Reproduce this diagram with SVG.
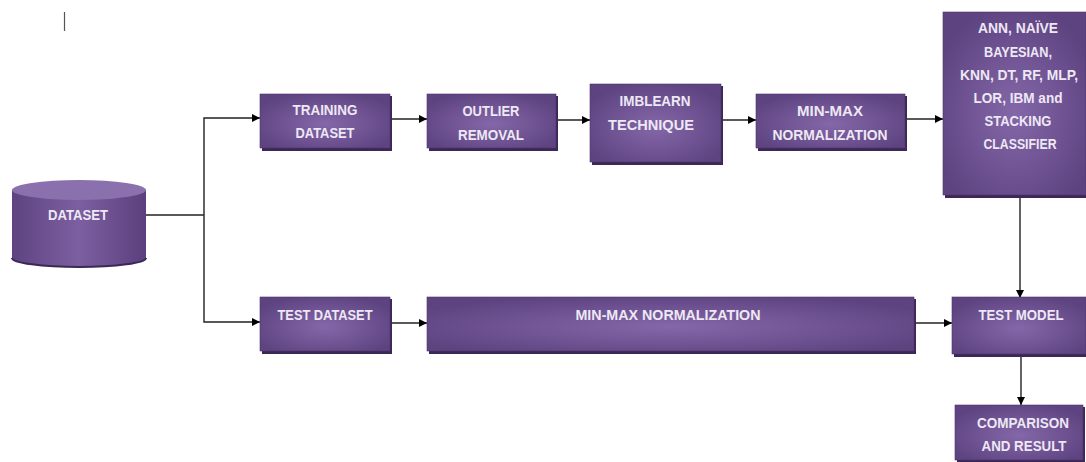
<svg xmlns="http://www.w3.org/2000/svg" width="1086" height="462" viewBox="0 0 1086 462">
<defs>
<radialGradient id="g" cx="50%" cy="55%" r="60%">
<stop offset="0" stop-color="#8467a8"/>
<stop offset="1" stop-color="#5e4381"/>
</radialGradient>
<linearGradient id="cyl" x1="0" y1="0" x2="1" y2="0">
<stop offset="0" stop-color="#5e4381"/>
<stop offset="0.5" stop-color="#7c5fa0"/>
<stop offset="1" stop-color="#5b3f7d"/>
</linearGradient>
<marker id="ah" viewBox="0 0 10 10" refX="10" refY="5" markerWidth="8" markerHeight="8" markerUnits="userSpaceOnUse" orient="auto">
<path d="M0,0 L10,5 L0,10 z" fill="#000"/>
</marker>
</defs>
<style>
.sh{fill:#3c2856}
.bx{fill:url(#g);stroke:#4e3570;stroke-width:0.6}
.t{font-family:"Liberation Sans",Arial,sans-serif;font-weight:700;font-size:14px;fill:#eee8f5;text-anchor:middle}
.c{fill:none;stroke:#222;stroke-width:1.4}
.ca{fill:none;stroke:#222;stroke-width:1.4;marker-end:url(#ah)}
</style>
<rect width="1086" height="462" fill="#fff"/>
<line x1="64.5" y1="12" x2="64.5" y2="31" stroke="#555" stroke-width="1.2"/>
<g id="connectors">
<path class="c" d="M146,215 H204"/>
<path class="ca" d="M204,215 V118 H260"/>
<path class="ca" d="M204,215 V322 H260"/>
<path class="ca" d="M391,119 H427"/>
<path class="ca" d="M556,120 H590"/>
<path class="ca" d="M721,120 H756"/>
<path class="ca" d="M906,119 H943"/>
<path class="ca" d="M1020,198 V298"/>
<path class="ca" d="M391,323 H427"/>
<path class="ca" d="M915,323 H952"/>
<path class="ca" d="M1021,357 V405"/>
</g>
<g id="dataset">
<path d="M12,190 V258 A67,9 0 0 0 146,258 V190 z" fill="url(#cyl)"/>
<path d="M12,258 A67,9 0 0 0 146,258" fill="none" stroke="#3c2856" stroke-width="2"/>
<ellipse cx="79" cy="190" rx="67" ry="10" fill="#8a70ad"/>
<text class="t" x="78" y="220" textLength="60" lengthAdjust="spacingAndGlyphs">DATASET</text>
</g>
<g id="training">
<rect class="sh" x="262" y="96" width="130" height="55"/>
<rect class="bx" x="260" y="94" width="130" height="54"/>
<text class="t" x="325" y="115" textLength="65" lengthAdjust="spacingAndGlyphs">TRAINING</text>
<text class="t" x="325" y="138" textLength="59" lengthAdjust="spacingAndGlyphs">DATASET</text>
</g>
<g id="outlier">
<rect class="sh" x="429" y="96" width="129" height="55"/>
<rect class="bx" x="427" y="94" width="129" height="54"/>
<text class="t" x="491" y="116" textLength="57" lengthAdjust="spacingAndGlyphs">OUTLIER</text>
<text class="t" x="491" y="140" textLength="66" lengthAdjust="spacingAndGlyphs">REMOVAL</text>
</g>
<g id="imblearn">
<rect class="sh" x="592" y="86" width="131" height="79"/>
<rect class="bx" x="590" y="84" width="131" height="78"/>
<text class="t" x="655" y="106" textLength="71" lengthAdjust="spacingAndGlyphs">IMBLEARN</text>
<text class="t" x="651" y="130" textLength="86" lengthAdjust="spacingAndGlyphs">TECHNIQUE</text>
</g>
<g id="minmax-train">
<rect class="sh" x="758" y="96" width="149" height="55"/>
<rect class="bx" x="756" y="94" width="149" height="54"/>
<text class="t" x="830" y="116" textLength="66" lengthAdjust="spacingAndGlyphs">MIN-MAX</text>
<text class="t" x="830" y="140" textLength="115" lengthAdjust="spacingAndGlyphs">NORMALIZATION</text>
</g>
<g id="classifier">
<rect class="sh" x="945" y="14" width="141" height="184"/>
<rect class="bx" x="943" y="12" width="143" height="183"/>
<text class="t" x="1018" y="33" textLength="80" lengthAdjust="spacingAndGlyphs">ANN, NAÏVE</text>
<text class="t" x="1018" y="57" textLength="68" lengthAdjust="spacingAndGlyphs">BAYESIAN,</text>
<text class="t" x="1019" y="80" textLength="118" lengthAdjust="spacingAndGlyphs">KNN, DT, RF, MLP,</text>
<text class="t" x="1018" y="103" textLength="89" lengthAdjust="spacingAndGlyphs">LOR, IBM and</text>
<text class="t" x="1018" y="126" textLength="67" lengthAdjust="spacingAndGlyphs">STACKING</text>
<text class="t" x="1020" y="149" textLength="73" lengthAdjust="spacingAndGlyphs">CLASSIFIER</text>
</g>
<g id="test-dataset">
<rect class="sh" x="262" y="299" width="130" height="55"/>
<rect class="bx" x="260" y="297" width="130" height="54"/>
<text class="t" x="325" y="320" textLength="95" lengthAdjust="spacingAndGlyphs">TEST DATASET</text>
</g>
<g id="minmax-test">
<rect class="sh" x="429" y="299" width="487" height="55"/>
<rect class="bx" x="427" y="297" width="487" height="54"/>
<text class="t" x="668" y="320" textLength="185" lengthAdjust="spacingAndGlyphs">MIN-MAX NORMALIZATION</text>
</g>
<g id="test-model">
<rect class="sh" x="954" y="299" width="132" height="58"/>
<rect class="bx" x="952" y="297" width="134" height="57"/>
<text class="t" x="1021" y="320" textLength="85" lengthAdjust="spacingAndGlyphs">TEST MODEL</text>
</g>
<g id="comparison">
<rect class="sh" x="957" y="407" width="128" height="55"/>
<rect class="bx" x="955" y="405" width="128" height="55"/>
<text class="t" x="1023" y="428" textLength="92" lengthAdjust="spacingAndGlyphs">COMPARISON</text>
<text class="t" x="1024" y="451" textLength="85" lengthAdjust="spacingAndGlyphs">AND RESULT</text>
</g>
</svg>
